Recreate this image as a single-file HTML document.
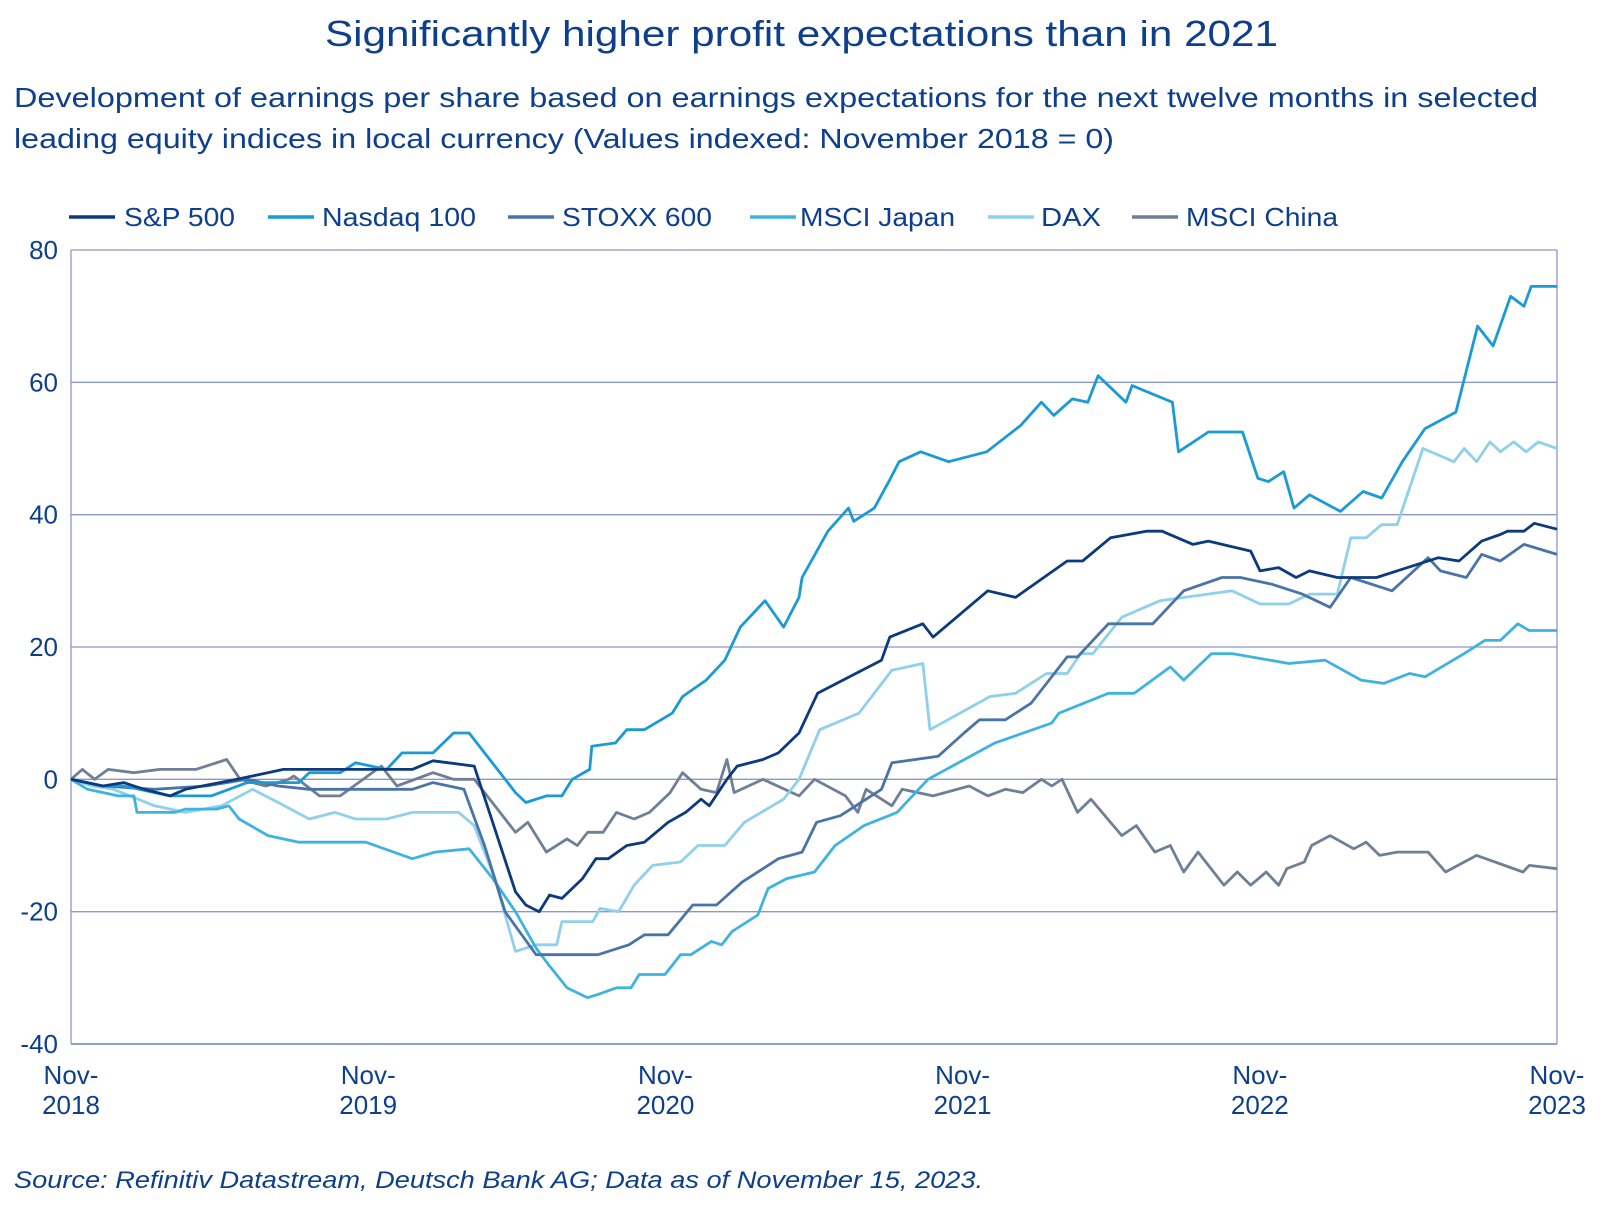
<!DOCTYPE html>
<html><head><meta charset="utf-8"><style>
body{margin:0;background:#fff;}
svg text{font-family:"Liberation Sans",sans-serif;fill:#0d3f8c;}
</style></head><body>
<svg id="s" width="1616" height="1213" xmlns="http://www.w3.org/2000/svg">
<text x="325" y="46" font-size="36" textLength="953" lengthAdjust="spacingAndGlyphs">Significantly higher profit expectations than in 2021</text>
<text x="14" y="107" font-size="28" textLength="1524" lengthAdjust="spacingAndGlyphs">Development of earnings per share based on earnings expectations for the next twelve months in selected</text>
<text x="14" y="148" font-size="28" textLength="1100" lengthAdjust="spacingAndGlyphs">leading equity indices in local currency (Values indexed: November 2018 = 0)</text>
<g id="grid"></g><g id="lines"></g><g id="leg"></g>
<text x="14" y="1188" font-size="24" font-style="italic" textLength="969" lengthAdjust="spacingAndGlyphs">Source: Refinitiv Datastream, Deutsch Bank AG; Data as of November 15, 2023.</text>
</svg>
<script>
const L=71,R=1557,T=250,B=1044;
const X=xd=>L+(xd-69)/1441*(R-L);
const Y=v=>T+(80-v)/120*(B-T);
const ns="http://www.w3.org/2000/svg";
function el(t,a,p,txt){const e=document.createElementNS(ns,t);for(const k in a)e.setAttribute(k,a[k]);if(txt!=null)e.textContent=txt;document.getElementById(p).appendChild(e);return e;}
for(let v=-40;v<=80;v+=20){el('line',{x1:L,x2:R,y1:Y(v),y2:Y(v),stroke:v==-40?'#4a6aa8':'#8e96c4','stroke-width':1.3},'grid');
el('text',{x:58,y:Y(v)+9,'font-size':26,'text-anchor':'end'},'grid',v);}
el('line',{x1:L,x2:L,y1:T,y2:B,stroke:'#8e96c4','stroke-width':1.3},'grid');
el('line',{x1:R,x2:R,y1:T,y2:B,stroke:'#8e96c4','stroke-width':1.3},'grid');
for(let i=0;i<=5;i++){const x=L+i*(R-L)/5;el('text',{x:x,y:1084,'font-size':26,'text-anchor':'middle'},'grid','Nov-');el('text',{x:x,y:1114,'font-size':26,'text-anchor':'middle'},'grid',2018+i);}
const S={
china:["#6f7f96",[69,0,80,1.5,92,0,105,1.5,130,1,155,1.5,190,1.5,220,3,233,0,258,-1,280,0,285,0.5,310,-2.5,330,-2.5,370,2,385,-1,420,1,440,0,460,0,500,-8,512,-6.5,530,-11,550,-9,560,-10,570,-8,585,-8,598,-5,615,-6,630,-5,650,-2,662,1,680,-1.5,695,-2,705,3,712,-2,740,0,775,-2.5,790,0,820,-2.5,832,-5,840,-1.5,850,-2.5,865,-4,875,-1.5,905,-2.5,940,-1,958,-2.5,975,-1.5,992,-2,1010,0,1020,-1,1030,0,1045,-5,1058,-3,1088,-8.5,1102,-7,1120,-11,1135,-10,1148,-14,1162,-11,1187,-16,1200,-14,1213,-16,1228,-14,1240,-16,1248,-13.5,1265,-12.5,1272,-10,1290,-8.5,1313,-10.5,1325,-9.5,1338,-11.5,1355,-11,1385,-11,1402,-14,1432,-11.5,1477,-14,1483,-13,1510,-13.5]],
dax:["#8fd0ec",[69,0,90,-1,110,-1.5,150,-4,180,-5,215,-4,245,-1.5,270,-3.5,300,-6,325,-5,345,-6,375,-6,400,-5,445,-5,460,-7,480,-15,500,-26,520,-25,540,-25,545,-21.5,575,-21.5,582,-19.5,600,-20,615,-16,633,-13,660,-12.5,677,-10,703,-10,722,-6.5,760,-3,775,0,795,7.5,833,10,865,16.5,895,17.5,902,7.5,960,12.5,985,13,1015,16,1035,16,1048,19,1060,19,1088,24.5,1125,27,1195,28.5,1222,26.5,1250,26.5,1270,28,1297,28,1310,36.5,1325,36.5,1340,38.5,1355,38.5,1380,50,1410,48,1420,50,1432,48,1445,51,1455,49.5,1468,51,1480,49.5,1492,51,1510,50]],
japan:["#3fb3e0",[69,0,85,-1.5,115,-2.5,130,-2.5,133,-5,170,-5,180,-4.5,210,-4.5,222,-4,232,-6,260,-8.5,290,-9.5,355,-9.5,400,-12,422,-11,455,-10.5,478,-15,500,-20,520,-25.5,532,-28,550,-31.5,570,-33,580,-32.5,598,-31.5,612,-31.5,620,-29.5,645,-29.5,660,-26.5,670,-26.5,690,-24.5,700,-25,710,-23,735,-20.5,745,-16.5,763,-15,790,-14,810,-10,838,-7,870,-5,900,0,965,5.5,1020,8.5,1027,10,1075,13,1100,13,1135,17,1148,15,1175,19,1195,19,1250,17.5,1285,18,1320,15,1342,14.5,1367,16,1382,15.5,1420,19,1440,21,1455,21,1472,23.5,1483,22.5,1510,22.5]],
stoxx:["#4a73a8",[69,0,100,-1,150,-1.5,200,-1,240,0,255,-0.5,270,-1,300,-1.5,400,-1.5,420,-0.5,450,-1.5,470,-10,490,-20,520,-26.5,580,-26.5,610,-25,625,-23.5,648,-23.5,672,-19,695,-19,720,-15.5,740,-13.5,755,-12,778,-11,792,-6.5,815,-5.5,830,-4,855,-1.5,865,2.5,910,3.5,935,7,950,9,975,9,1000,11.5,1020,15.5,1035,18.5,1045,18.5,1075,23.5,1118,23.5,1148,28.5,1185,30.5,1203,30.5,1233,29.5,1263,28,1290,26,1310,30.5,1350,28.5,1385,33.5,1397,31.5,1422,30.5,1437,34,1455,33,1478,35.5,1510,34]],
nasdaq:["#1a9ad6",[69,0,100,-1,120,-1,165,-2.5,205,-2.5,240,-0.5,290,-0.5,300,1,330,1,345,2.5,375,1.5,390,4,420,4,440,7,455,7,500,-2,510,-3.5,530,-2.5,545,-2.5,555,0,572,1.5,574,5,597,5.5,608,7.5,625,7.5,652,10,662,12.5,685,15,703,18,718,23,742,27,760,23,775,27.5,778,30.5,803,37.5,823,41,828,39,848,41,862,45,872,48,893,49.5,920,48,957,49.5,990,53.5,1010,57,1022,55,1040,57.5,1055,57,1065,61,1092,57,1098,59.5,1137,57,1143,49.5,1172,52.5,1205,52.5,1220,45.5,1230,45,1245,46.5,1255,41,1270,43,1300,40.5,1322,43.5,1340,42.5,1360,48,1382,53,1412,55.5,1433,68.5,1448,65.5,1465,73,1478,71.5,1485,74.5,1510,74.5]],
sp:["#0b3a7e",[69,0,100,-1,120,-0.5,140,-1.5,165,-2.5,180,-1.5,230,0,275,1.5,400,1.5,420,2.8,460,2,500,-17,510,-19,523,-20,533,-17.5,545,-18,565,-15,578,-12,590,-12,608,-10,625,-9.5,648,-6.5,665,-5,680,-3,688,-4,705,0,715,2,740,3,755,4,775,7,793,13,830,16,855,18,863,21.5,895,23.5,905,21.5,958,28.5,985,27.5,1035,33,1050,33,1077,36.5,1112,37.5,1127,37.5,1157,35.5,1172,36,1213,34.5,1222,31.5,1240,32,1257,30.5,1270,31.5,1297,30.5,1335,30.5,1365,32,1395,33.5,1415,33,1437,36,1455,37,1462,37.5,1478,37.5,1488,38.7,1510,37.8]]};
for(const k in S){const [c,d]=S[k];let p='';for(let i=0;i<d.length;i+=2)p+=(i?'L':'M')+X(d[i]).toFixed(1)+','+Y(d[i+1]).toFixed(1);
el('path',{d:p,fill:'none',stroke:c,'stroke-width':2.8,'stroke-linejoin':'round'},'lines');}
const lg=[["S&P 500","#0b3a7e",69,124,111],["Nasdaq 100","#1a9ad6",268,322,154],["STOXX 600","#4a73a8",508,562,150],["MSCI Japan","#3fb3e0",750,800,155],["DAX","#8fd0ec",988,1041,60],["MSCI China","#6f7f96",1132,1186,152]];
for(const [t,c,x1,tx,w] of lg){el('line',{x1:x1,x2:x1+46,y1:217,y2:217,stroke:c,'stroke-width':3.5},'leg');el('text',{x:tx,y:226,'font-size':26,textLength:w,lengthAdjust:'spacingAndGlyphs'},'leg',t);}
</script>
</body></html>
